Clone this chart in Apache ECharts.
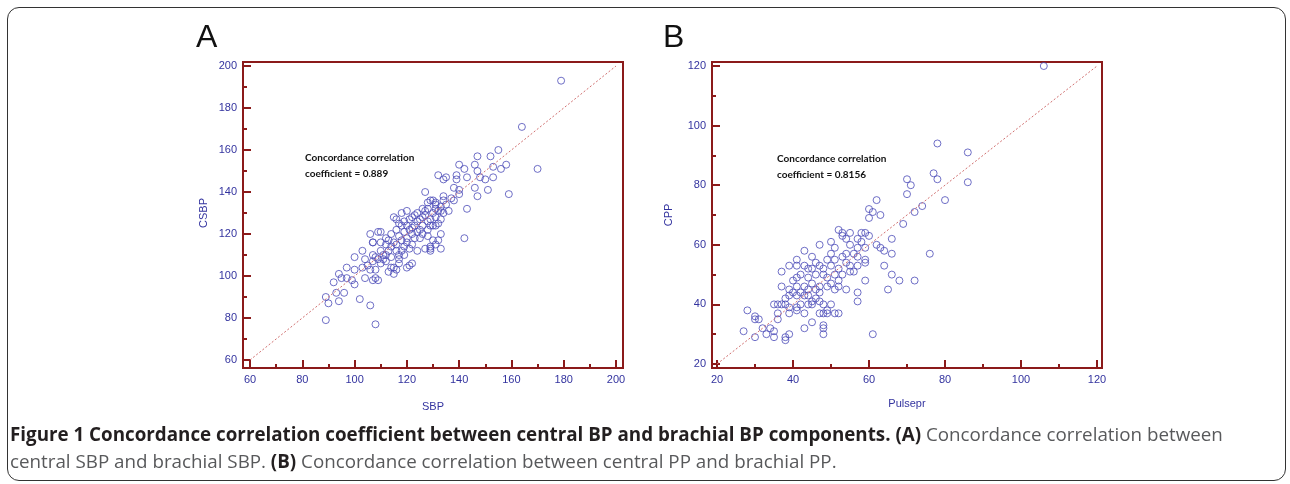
<!DOCTYPE html>
<html><head><meta charset="utf-8">
<script src="https://cdn.jsdelivr.net/npm/echarts@6/dist/echarts.min.js"></script>
<style>
html,body{margin:0;padding:0;background:#fff}
#wrap{position:absolute;left:0;top:0;width:1290px;height:484px}
#frame{position:absolute;left:7px;top:7px;width:1277px;height:472px;border:1.5px solid #333;border-radius:12px;pointer-events:none}
#c{position:absolute;left:0;top:0;width:1290px;height:484px}
</style>
</head><body><div id="wrap"><div id="c"></div><div id="frame"></div></div>
<script>
// ---- axis ranges / ticks ----
const sbpRange = [60, 200];
const ppRange = [20, 120];
const tickStep = 20;
const axisNamesA = ['SBP', 'CSBP'];
const axisNamesB = ['Pulsepr', 'CPP'];

// ---- panel A: brachial SBP vs central SBP ----
const panelAPoints = [
[179,193],[164,171],[170,151],[155,160],[152,157],[147,157],[140,153],[142,151],[146,153],[147,150],[153,152],[156,151],[158,153],[132,148],[135,147],[134,146],[139,148],[139,146],[143,147],[148,147],[150,146],[153,147],[138,142],[140,141],[146,142],[151,141],[140,139],[147,138],[159,139],[138,136],[134,136],[143,132],[131,135],[133,133],[132,131],[134,130],[131,128],[133,131],[133,127],[131,124],[133,120],[132,117],[142,118],[129,113],[136,131],[137,137],[134,138],[135,134],[131,132],[127,131],
[127,140],[128,135],[130,136],[131,134],[129,136],[128,132],[130,130],[129,127],[132,125],[128,119],[130,117],[131,115],[129,114],[133,113],[121,105],[115,104],[114,104],[130,124],[124,112],[127,113],[129,112],[120,104],[122,106],[117,106],[117,108],[113,102],[115,101],[116,103],[115,128],[116,127],[118,130],[120,131],[122,128],[109,121],[110,121],[106,120],[107,116],[110,116],[112,115],[110,112],[113,112],[111,110],[112,110],
[112,118],[114,120],[116,122],[118,124],[117,119],[119,121],[120,118],[121,122],[122,120],[123,124],[124,126],[125,122],[126,128],[124,130],[126,132],[125,118],[122,115],[119,114],[118,117],[116,115],[114,114],[115,116],[113,117],[117,125],[119,126],[121,127],[123,129],[125,127],[127,129],[126,124],[128,126],[123,118],[120,116],[118,112],[121,113],[119,110],[117,110],[116,112],[114,109],[112,107],[110,106],[108,109],[109,108],[111,108],[124,121],[122,123],[120,124],[126,120],[128,122],[129,124],
[89,90],[90,87],[89,79],[108,77],[106,86],[102,89],[94,88],[93,92],[96,92],[92,97],[94,101],[95,99],[97,99],[97,104],[100,96],[100,103],[99,98],[100,109],[103,112],[104,108],[103,104],[104,99],[106,103],[105,105],[107,98],[108,99],[109,98],[108,103],[107,107],[107,110],[107,116]
];
const identityA = [[60,60],[200,200]];
const cccA = '0.889';

// ---- panel B: brachial PP (Pulsepr) vs central PP ----
const panelBPoints = [
[106,120],[78,94],[86,91],[86,81],[70,82],[71,80],[70,77],[77,84],[78,82],[80,75],[74,73],[72,71],[69,67],[76,57],[68,48],[72,48],[62,75],[60,72],[61,71],[63,70],[60,69],[52,65],[53,64],[53,63],[57,62],[58,64],[59,64],[60,63],[58,61],[59,59],[62,60],[63,59],[64,58],[66,62],[66,57],[55,60],[57,59],[59,55],[59,54],[57,53],[59,48],[57,44],[57,41],[61,30],[64,53],[66,50],[65,45],[54,57],[56,57],[57,56],[51,59],[50,57],[49,55],[51,55],[53,56],[54,54],[45,56],[41,55],[41,53],[43,53],[45,52],[47,53],[48,52],[50,53],[39,53],[37,51],[42,50],[44,49],[46,50],[48,50],[49,49],[51,50],[52,48],[53,50],[40,48],[41,49],[37,46],[39,45],[41,46],[43,46],[44,45],[46,45],[47,46],[49,46],[50,47],[51,45],[52,46],[39,43],[41,43],[43,43],[44,43],[45,41],[47,41],[46,42],[48,40],[50,40],[49,38],[48,37],[35,40],[36,40],[37,40],[38,40],[39,39],[41,39],[42,40],[44,40],[45,40],[36,37],[36,35],[39,37],[41,38],[43,37],[47,37],[49,37],[51,37],[52,37],[28,38],[30,35],[30,36],[31,35],[27,31],[30,29],[32,32],[33,30],[34,32],[35,31],[35,29],[38,28],[38,29],[39,30],[43,32],[45,34],[48,32],[48,30],[48,33],[54,45],[55,51],[56,51],[45,47],[40,44],[42,44],[38,42],[47,44],[44,52],[46,54],[52,52],[55,53],[43,58],[47,60],[50,61],[54,62],[55,64]
];
const identityB = [[20,20],[120,120]];
const cccB = '0.8156';

// ---- styles ----
const AXIS_RED = '#8B1A1A';
const LABEL_BLUE = '#33339F';
const POINT_BLUE = '#4B4BB8';
const FONT = '"Liberation Sans", Arial, sans-serif';

function axis(gridIndex, range, offset, name, nameGap) {
  return {
    type: 'value', gridIndex, min: range[0], max: range[1], interval: tickStep, offset,
    name, nameLocation: 'middle', nameGap,
    nameTextStyle: {color: LABEL_BLUE, fontSize: 11},
    axisLine: {show: true, onZero: false, lineStyle: {color: AXIS_RED, width: 2}},
    axisTick: {show: true, inside: true, length: 8, lineStyle: {color: AXIS_RED, width: 2}},
    minorTick: {show: true, splitNumber: 2, length: 4, lineStyle: {color: AXIS_RED, width: 2}},
    axisLabel: {color: LABEL_BLUE, fontSize: 11, margin: 6},
    splitLine: {show: false}
  };
}

const chart = echarts.init(document.getElementById('c'));

chart.setOption({
  animation: false,
  grid: [
    {left: 250, top: 66, width: 366, height: 294},
    {left: 717, top: 66, width: 380, height: 298}
  ],
  xAxis: [axis(0, sbpRange, 8, axisNamesA[0], 33), axis(1, ppRange, 4, axisNamesB[0], 30)],
  yAxis: [axis(0, sbpRange, 7, axisNamesA[1], 34), axis(1, ppRange, 5, axisNamesB[1], 38)],
  series: [
    {type: 'line', xAxisIndex: 0, yAxisIndex: 0, data: identityA, symbol: 'none',
     lineStyle: {color: '#D07070', width: 1, type: [2, 2]}},
    {type: 'scatter', xAxisIndex: 0, yAxisIndex: 0, data: panelAPoints, symbolSize: 7,
     itemStyle: {color: 'rgba(0,0,0,0)', borderColor: POINT_BLUE, borderWidth: 1}},
    {type: 'line', xAxisIndex: 1, yAxisIndex: 1, data: identityB, symbol: 'none',
     lineStyle: {color: '#D07070', width: 1, type: [2, 2]}},
    {type: 'scatter', xAxisIndex: 1, yAxisIndex: 1, data: panelBPoints, symbolSize: 7,
     itemStyle: {color: 'rgba(0,0,0,0)', borderColor: POINT_BLUE, borderWidth: 1}}
  ],
  graphic: [
    {type: 'rect', shape: {x: 243, y: 62, width: 380, height: 306},
     style: {fill: null, stroke: AXIS_RED, lineWidth: 2}},
    {type: 'rect', shape: {x: 712, y: 62, width: 390, height: 306},
     style: {fill: null, stroke: AXIS_RED, lineWidth: 2}},
    {type: 'text', left: 196, top: 22, style: {text: 'A', font: '32px ' + FONT, fill: '#111'}},
    {type: 'text', left: 663, top: 22, style: {text: 'B', font: '32px ' + FONT, fill: '#111'}},
    {type: 'text', left: 305, top: 150, style: {text: 'Concordance correlation\ncoefficient = ' + cccA, font: 'bold 10px Lato, sans-serif', lineHeight: 16, fill: '#111'}},
    {type: 'text', left: 777, top: 151, style: {text: 'Concordance correlation\ncoefficient = ' + cccB, font: 'bold 10px Lato, sans-serif', lineHeight: 16, fill: '#111'}},
    {type: 'text', left: 10, top: 426, style: {
      text: '{b|Figure 1 Concordance correlation coefficient between central BP and brachial BP components. (A)}{r| Concordance correlation between}\n{r|central SBP and brachial SBP. }{b|(B)}{r| Concordance correlation between central PP and brachial PP.}',
      rich: {
        b: {font: 'bold 18.8px "Open Sans", sans-serif', fill: '#231F20', lineHeight: 27},
        r: {font: '18.8px "Open Sans", sans-serif', fill: '#58595B', lineHeight: 27}
      }
    }}
  ]
});
</script>
</body></html>
